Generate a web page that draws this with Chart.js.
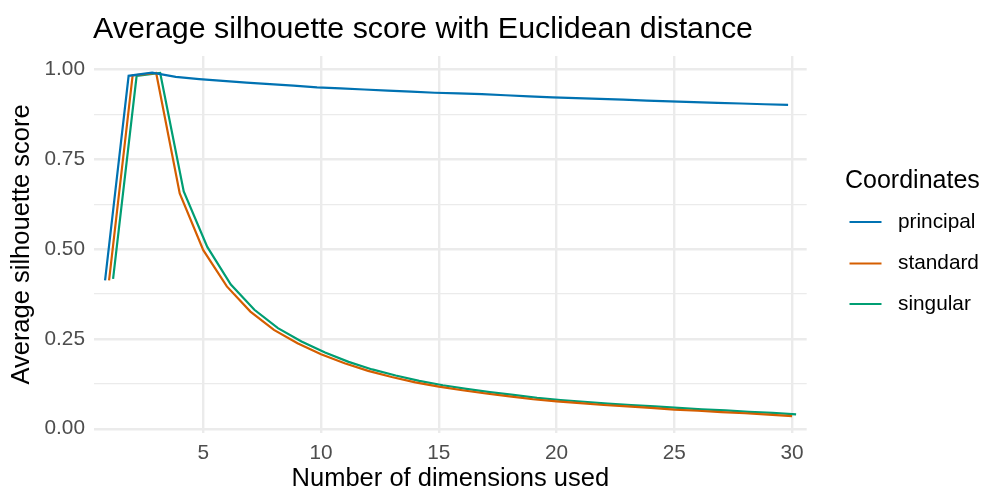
<!DOCTYPE html>
<html>
<head>
<meta charset="utf-8">
<script src="https://cdn.jsdelivr.net/npm/chart.js@4/dist/chart.umd.min.js"></script>
<style>
  html, body { margin: 0; padding: 0; background: #ffffff; }
  #wrap { width: 987px; height: 494px; }
</style>
</head>
<body>
<div id="wrap"><canvas id="chart" width="987" height="494"></canvas></div>
<script>
// Number of dimensions kept in the representation
const dimensions = [1, 2, 3, 4, 5, 6, 7, 8, 9, 10, 11, 12, 13, 14, 15,
                    16, 17, 18, 19, 20, 21, 22, 23, 24, 25, 26, 27, 28, 29, 30];

// Average silhouette score per coordinate type
const principal = [0.413, 0.982, 0.991, 0.979, 0.973, 0.968, 0.963, 0.959, 0.955, 0.950,
                   0.947, 0.944, 0.941, 0.938, 0.935, 0.933, 0.931, 0.928, 0.925, 0.922,
                   0.920, 0.918, 0.916, 0.913, 0.911, 0.909, 0.907, 0.905, 0.903, 0.901];
const standard  = [0.413, 0.983, 0.990, 0.655, 0.497, 0.396, 0.326, 0.275, 0.238, 0.207,
                   0.182, 0.161, 0.144, 0.129, 0.117, 0.107, 0.098, 0.090, 0.082, 0.076,
                   0.071, 0.066, 0.062, 0.058, 0.053, 0.050, 0.046, 0.043, 0.039, 0.035];
const singular  = [0.417, 0.982, 0.990, 0.660, 0.506, 0.401, 0.331, 0.280, 0.243, 0.212,
                   0.186, 0.165, 0.148, 0.133, 0.121, 0.111, 0.102, 0.094, 0.086, 0.080,
                   0.075, 0.070, 0.066, 0.062, 0.058, 0.054, 0.051, 0.047, 0.044, 0.040];

const seriesNames = ['principal', 'standard', 'singular'];
const seriesColors = ['#0072B2', '#D55E00', '#009E73'];

// Tick labels
const xTickValues = [5, 10, 15, 20, 25, 30];
const yTickValues = [0, 0.25, 0.5, 0.75, 1];
const yTickLabels = ['0.00', '0.25', '0.50', '0.75', '1.00'];
const yMinorValues = [0.125, 0.375, 0.625, 0.875];

const chartTitle = 'Average silhouette score with Euclidean distance';
const legendTitle = 'Coordinates';

// Lines are dodged horizontally so overlapping series stay visible
const dodge = [-0.17, 0, 0.17];

const FONT = '"Liberation Sans", Arial, Helvetica, sans-serif';
Chart.defaults.font.family = FONT;

const PANEL_LEFT = 94;
const PANEL_TOP = 56;
const PANEL_BOTTOM = 433;
const PANEL_RIGHT = 806.7;
const W = 987, H = 494;

function makeSeries(values, k) {
  return values.map((v, i) => ({ x: dimensions[i] + dodge[k], y: v }));
}

const datasets = [principal, standard, singular].map((vals, k) => ({
  label: seriesNames[k],
  data: makeSeries(vals, k),
  borderColor: seriesColors[k],
  backgroundColor: seriesColors[k],
  borderWidth: 2.2,
  pointRadius: 0,
  tension: 0,
  fill: false
}));

// Title and legend in ggplot-like placement
const decorations = {
  id: 'decorations',
  afterDraw(chart) {
    const ctx = chart.ctx;
    ctx.save();
    ctx.fillStyle = '#000000';
    ctx.textAlign = 'left';
    ctx.textBaseline = 'alphabetic';
    ctx.font = '30.4px ' + FONT;
    ctx.fillText(chartTitle, 93, 38);

    ctx.font = '25px ' + FONT;
    ctx.fillText(legendTitle, 845, 188);

    ctx.font = '20.8px ' + FONT;
    ctx.textBaseline = 'middle';
    const keyY = [222, 263.5, 304];
    chart.data.datasets.forEach((ds, i) => {
      ctx.strokeStyle = ds.borderColor;
      ctx.lineWidth = 2.2;
      ctx.beginPath();
      ctx.moveTo(849.5, keyY[i]);
      ctx.lineTo(881.5, keyY[i]);
      ctx.stroke();
      ctx.fillStyle = '#000000';
      ctx.fillText(ds.label, 898, keyY[i]);
    });
    ctx.restore();
  }
};

new Chart(document.getElementById('chart'), {
  type: 'line',
  data: { datasets },
  plugins: [decorations],
  options: {
    responsive: false,
    animation: false,
    layout: { padding: { top: PANEL_TOP, right: W - PANEL_RIGHT, bottom: 0, left: 0 } },
    plugins: {
      legend: { display: false },
      title: { display: false },
      tooltip: { enabled: false }
    },
    scales: {
      x: {
        type: 'linear',
        min: 0.36,
        max: 30.62,
        afterBuildTicks(scale) { scale.ticks = xTickValues.map(v => ({ value: v })); },
        afterFit(scale) { scale.height = H - PANEL_BOTTOM; },
        ticks: {
          padding: 8,
          color: '#4D4D4D',
          font: { size: 20.8 },
          maxRotation: 0,
          autoSkip: false,
          callback: (v) => String(v)
        },
        grid: { color: '#EBEBEB', lineWidth: 2.4, drawTicks: false },
        border: { display: false },
        title: {
          display: true,
          text: 'Number of dimensions used',
          color: '#000000',
          font: { size: 25.5 },
          padding: { top: 0, bottom: 0 }
        }
      },
      y: {
        type: 'linear',
        min: -0.0119,
        max: 1.0372,
        afterBuildTicks(scale) {
          scale.ticks = yTickValues.concat(yMinorValues).sort((a, b) => a - b).map(v => ({ value: v }));
        },
        afterFit(scale) { scale.width = PANEL_LEFT; },
        ticks: {
          padding: 9,
          color: '#4D4D4D',
          font: { size: 20.8 },
          autoSkip: false,
          callback: (v) => {
            const idx = yTickValues.indexOf(v);
            return idx >= 0 ? yTickLabels[idx] : '';
          }
        },
        grid: {
          color: '#EBEBEB',
          drawTicks: false,
          lineWidth: (c) => (c.tick && yTickValues.indexOf(c.tick.value) >= 0 ? 2.4 : 1.2)
        },
        border: { display: false },
        title: {
          display: true,
          text: 'Average silhouette score',
          color: '#000000',
          font: { size: 25.5 },
          padding: { top: 7, bottom: 0 }
        }
      }
    }
  }
});
</script>
</body>
</html>
